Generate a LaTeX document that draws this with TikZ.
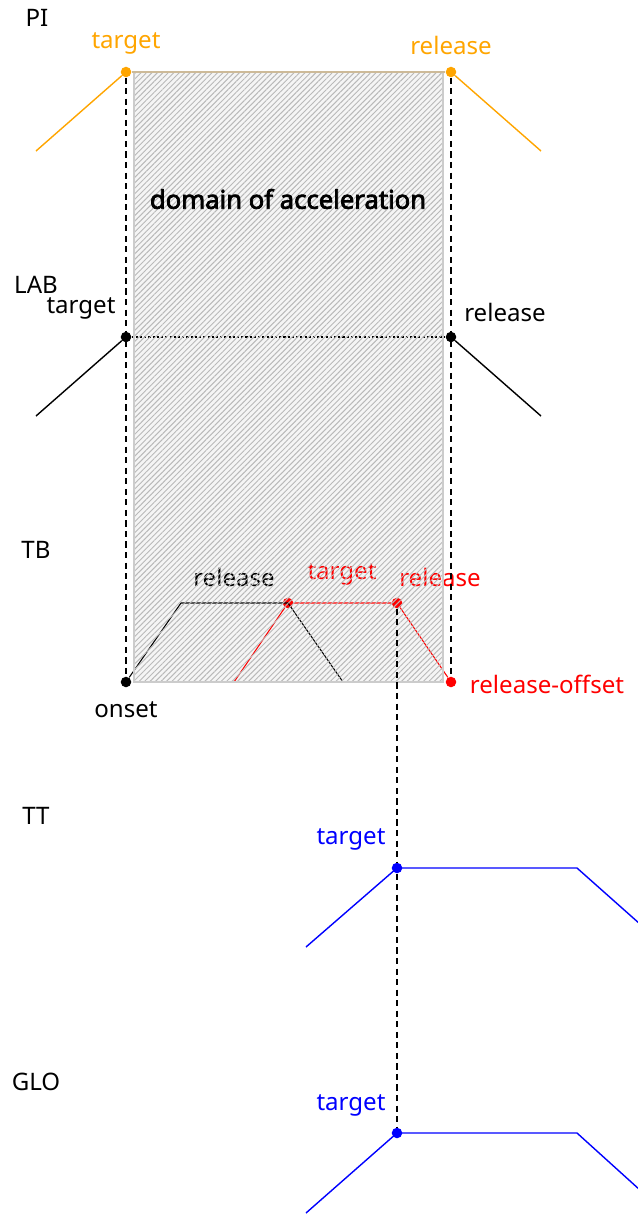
\documentclass[tikz,border=0pt]{standalone}
\usepackage{fontspec}
\setmainfont{Noto Sans}[AutoFakeBold=3]
\usepackage{xcolor}
\usetikzlibrary{patterns.meta, positioning}
\definecolor{piorange}{HTML}{FFA500}

\begin{document}
\begin{tikzpicture}[
    x=0.02cm, y=-0.02cm,
    lbl/.style={inner sep=0pt, font=\fontsize{13.7}{16}\selectfont},
    dot/.style={circle, fill, inner sep=0pt, minimum size=6pt},
    guide/.style={dash pattern=on 3.5pt off 2.5pt, line width=0.6pt},
    gesture/.style={line width=0.8pt},
    hatch/.style={pattern={Lines[angle=45, distance=2.2pt, line width=0.55pt]}, pattern color=gray!55},
]
    \useasboundingbox (0,0) rectangle (638,1225);

    % tier names
    \node[lbl] (pi)  at (37,18)   {PI};
    \node[lbl] (lab) at (36,285)  {LAB};
    \node[lbl] (tb)  at (36,550)  {TB};
    \node[lbl] (tt)  at (36,816)  {TT};
    \node[lbl] (glo) at (36,1082) {GLO};

    % background of the domain
    \fill[gray!8] (134,72) rectangle (443,682);

    % LAB
    \node[dot] (labT) at (126,337) {};
    \node[dot] (labR) at (451,337) {};
    \coordinate (labA) at (36,416);
    \coordinate (labB) at (541,416);
    \draw[gesture] (labA) -- (labT);
    \draw[gesture] (labR) -- (labB);
    \draw[line width=0.6pt, dash pattern=on 1.2pt off 1.2pt] (labT) -- (labR);
    \node[lbl] (labTl) at (81,308)  {target};
    \node[lbl] (labRl) at (505,312) {release};

    % TB
    \node[dot] (tbOn) at (126,682) {};
    \node[dot, red] (tbT) at (288,603) {};
    \node[dot, red] (tbR) at (397,603) {};
    \node[dot, red] (tbOff) at (451,682) {};
    \coordinate (tbA) at (181,603);
    \coordinate (tbB) at (343,682);
    \coordinate (tbC) at (234,682);
    \draw[line width=0.6pt] (tbOn) -- (tbA) -- (tbT.center) -- (tbB);
    \draw[line width=0.6pt, red] (tbC) -- (tbT) -- (tbR) -- (tbOff);
    \node[lbl] (tbRl) at (234,577) {release};
    \node[lbl, red] (tbTl) at (342,574) {target};
    \node[lbl, red] (tbR2l) at (440,577) {release};
    \node[lbl] (tbOnl) at (126,710) {onset};
    \node[lbl, red] (tbOffl) at (547,684) {release-offset};

    % domain of acceleration
    \draw[hatch, draw=gray!40, line width=0.8pt] (134,72) rectangle (443,682);
    \node[lbl, font=\fontsize{14.6}{17}\selectfont\bfseries] (dom) at (288,199) {domain of acceleration};

    % PI
    \node[dot, piorange] (piT) at (126,72) {};
    \node[dot, piorange] (piR) at (451,72) {};
    \coordinate (piA) at (36,151);
    \coordinate (piB) at (541,151);
    \draw[gesture, piorange!35!gray!60] (piT) -- (piR);
    \draw[gesture, piorange] (piA) -- (piT);
    \draw[gesture, piorange] (piR) -- (piB);
    \node[lbl, piorange] (piTl) at (126,43) {target};
    \node[lbl, piorange] (piRl) at (451,45) {release};

    % TT
    \node[dot, blue] (ttT) at (397,868) {};
    \coordinate (ttA) at (306,947);
    \coordinate (ttB) at (577,868);
    \coordinate (ttC) at (640,924);
    \draw[gesture, blue] (ttA) -- (ttT.center) -- (ttB) -- (ttC);
    \node[lbl, blue] (ttTl) at (351,839) {target};

    % GLO
    \node[dot, blue] (gloT) at (397,1133) {};
    \coordinate (gloA) at (306,1213);
    \coordinate (gloB) at (577,1133);
    \coordinate (gloC) at (640,1190);
    \draw[gesture, blue] (gloA) -- (gloT.center) -- (gloB) -- (gloC);
    \node[lbl, blue] (gloTl) at (351,1105) {target};

    % alignment guides
    \draw[guide] (piT) -- (tbOn);
    \draw[guide] (piR) -- (tbOff);
    \draw[guide] (tbR) -- (ttT) -- (gloT);
\end{tikzpicture}
\end{document}
